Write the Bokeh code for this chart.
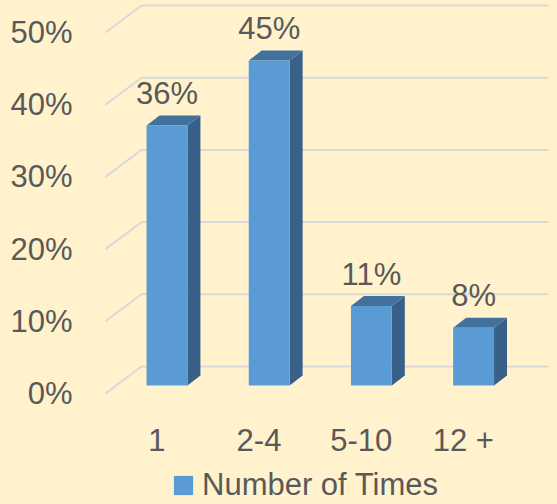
from bokeh.plotting import figure
from bokeh.layouts import column
from bokeh.models import Range1d, LinearAxis, FixedTicker, Legend, LegendItem
from bokeh.embed import file_html
from bokeh.resources import INLINE
from bokeh.core.properties import value

# ---- data ----
categories = ["1", "2-4", "5-10", "12 +"]
percent_values = [36, 45, 11, 8]
y_ticks = [0, 10, 20, 30, 40, 50]
y_tick_labels = ["0%", "10%", "20%", "30%", "40%", "50%"]
series_name = "Number of Times"

# ---- style ----
FONT = "Liberation Sans"
TEXT = "#595959"
BG = "#FFF2CC"
FRONT = "#5B9BD5"
TOP = "#41719C"
SIDE = "#386088"
GRID = "#D9D9D9"

W = 0.40              # bar width (category units)
DX, DY = 0.127, 1.385  # 3-D depth offset
GRID_FRONT_DY = -1.108
GRID_BACK_DY = 2.63
GRID_FRONT_X = -0.602
GRID_BACK_X = -0.2495
GRID_RIGHT_X = 3.732
LABEL_DY = 4.4
CAT_SHIFT = 0.1

xr = Range1d(-0.7485, 3.821)
yr = Range1d(-2.078, 53.32)

p = figure(width=557, height=460, x_range=xr, y_range=yr,
           output_backend="svg", toolbar_location=None,
           x_axis_type=None, y_axis_type=None,
           min_border_left=90, min_border_right=0, min_border_top=0, min_border_bottom=60,
           background_fill_color=BG, border_fill_color=BG, outline_line_color=None)

p.extra_y_ranges = {"ticks": Range1d(yr.start - GRID_FRONT_DY, yr.end - GRID_FRONT_DY)}
p.extra_x_ranges = {"cats": Range1d(xr.start + CAT_SHIFT, xr.end + CAT_SHIFT)}

idx = list(range(len(categories)))

yaxis = LinearAxis(y_range_name="ticks", ticker=FixedTicker(ticks=y_ticks),
                   major_label_overrides={t: l for t, l in zip(y_ticks, y_tick_labels)},
                   axis_line_color=None, major_tick_line_color=None, minor_tick_line_color=None,
                   major_tick_out=0, major_tick_in=0, minor_tick_out=0, minor_tick_in=0,
                   major_label_standoff=18,
                   major_label_text_font=FONT, major_label_text_font_size="31px",
                   major_label_text_color=TEXT)
p.add_layout(yaxis, "left")

xaxis = LinearAxis(x_range_name="cats", ticker=FixedTicker(ticks=idx),
                   major_label_overrides={i: c for i, c in zip(idx, categories)},
                   axis_line_color=None, major_tick_line_color=None, minor_tick_line_color=None,
                   major_tick_out=0, major_tick_in=0, minor_tick_out=0, minor_tick_in=0,
                   major_label_standoff=22,
                   major_label_text_font=FONT, major_label_text_font_size="31px",
                   major_label_text_color=TEXT)
p.add_layout(xaxis, "below")

# gridlines (front diagonal + back horizontal)
grid_xs = [[GRID_FRONT_X, GRID_BACK_X, GRID_RIGHT_X] for g in y_ticks]
grid_ys = [[g + GRID_FRONT_DY, g + GRID_BACK_DY, g + GRID_BACK_DY] for g in y_ticks]
p.multi_line(grid_xs, grid_ys, line_color=GRID, line_width=2)

# bars: side, top, front
side_xs = [[i + W / 2, i + W / 2 + DX, i + W / 2 + DX, i + W / 2] for i in idx]
side_ys = [[0, DY, v + DY, v] for v in percent_values]
p.patches(side_xs, side_ys, fill_color=SIDE, line_color=None)

top_xs = [[i - W / 2, i - W / 2 + DX, i + W / 2 + DX, i + W / 2] for i in idx]
top_ys = [[v, v + DY, v + DY, v] for v in percent_values]
p.patches(top_xs, top_ys, fill_color=TOP, line_color=None)

p.vbar(x=idx, top=percent_values, bottom=0, width=W, fill_color=FRONT, line_color=None)

# data labels
p.text(x=idx, y=[v + LABEL_DY for v in percent_values], text=[f"{v}%" for v in percent_values],
       text_align="center", text_baseline="alphabetic", text_font=value(FONT),
       text_font_size="31px", text_color=TEXT)

# ---- legend strip below the chart ----
q = figure(width=557, height=44, x_range=Range1d(0, 1), y_range=Range1d(0, 1),
           output_backend="svg", toolbar_location=None,
           x_axis_type=None, y_axis_type=None,
           min_border_left=0, min_border_right=0, min_border_top=0, min_border_bottom=0,
           background_fill_color=BG, border_fill_color=BG, outline_line_color=None)
swatch = q.vbar(x=idx, top=percent_values, bottom=0, width=W,
                fill_color=FRONT, line_color=None, visible=False)

legend = Legend(items=[LegendItem(label=series_name, renderers=[swatch])],
                location=(81, 1), orientation="horizontal",
                glyph_width=24, glyph_height=24, label_standoff=7,
                label_text_font=FONT, label_text_font_size="31px", label_text_color=TEXT,
                padding=0, margin=0, border_line_color=None, background_fill_alpha=0)
q.add_layout(legend)

layout = column(p, q, spacing=0)

html = file_html(layout, INLINE)
html = html.replace("</head>", "<style>body{background:#FFF2CC;}</style></head>", 1)
open("out.html", "w").write(html)
